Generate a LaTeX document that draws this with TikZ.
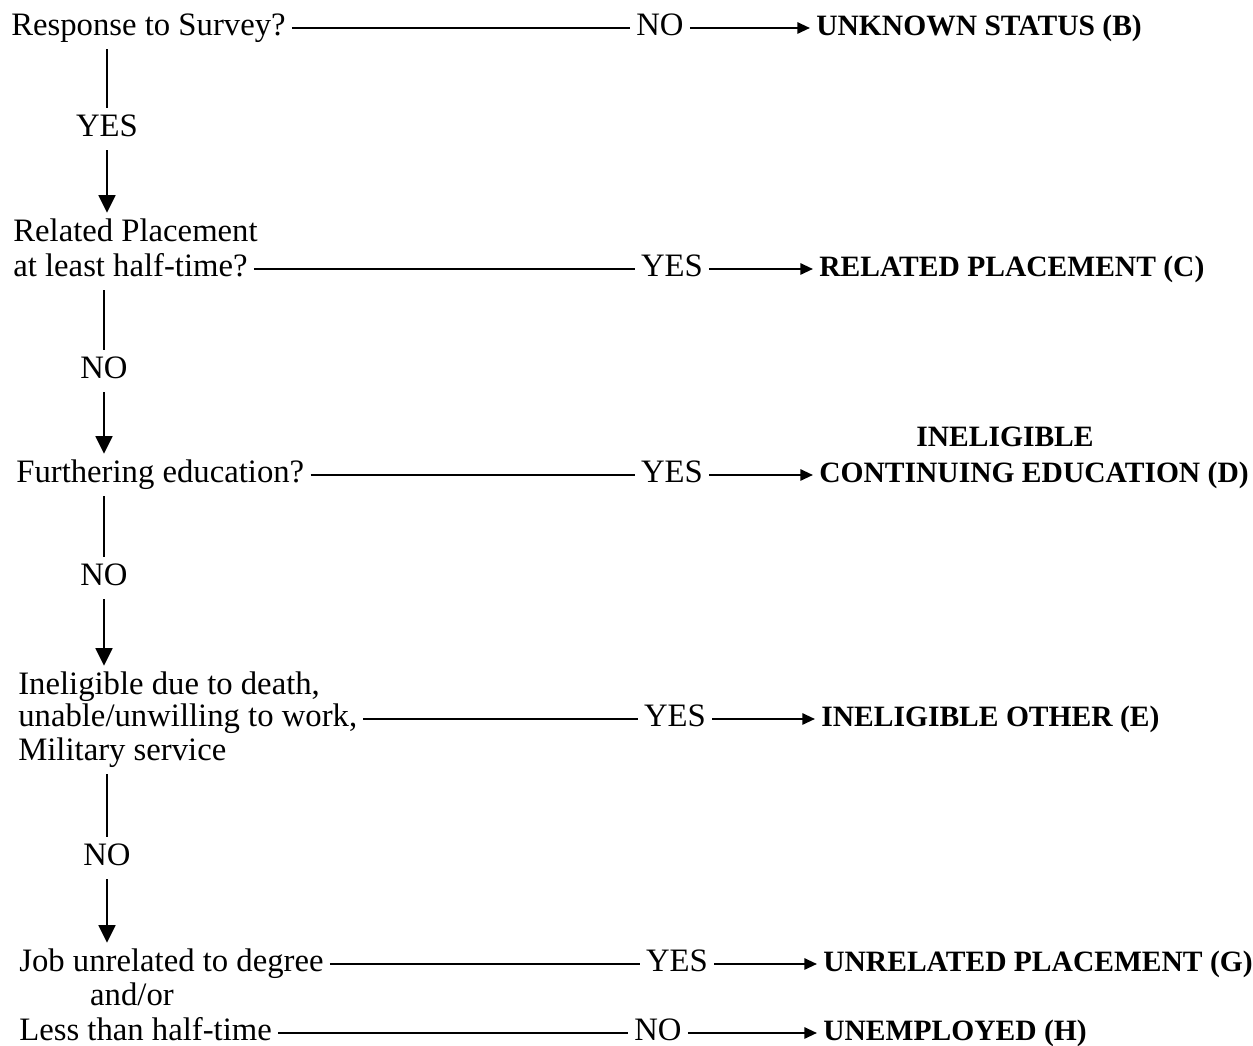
\documentclass[tikz,border=0pt]{standalone}
\usepackage{fontspec}
\setmainfont{Liberation Serif}
\usetikzlibrary{arrows.meta}
\begin{document}
\begin{tikzpicture}[x=0.01cm,y=-0.01cm,line width=0.6pt,
	every node/.style={inner xsep=1.5pt,inner ysep=1pt,text height=0.7em,text depth=0.25em,font=\fontsize{9.3}{11}\selectfont},
	ask/.style={anchor=west},
	outcome/.style={anchor=west,font=\fontsize{8.4}{10}\selectfont\bfseries},
	down/.style={-{Triangle[width=4.8pt,length=5pt]}},
	toward/.style={-{Triangle[width=3.2pt,length=3.6pt]}}]
			\useasboundingbox (0,0) rectangle (1253,1046);
			% questions
			\node[ask] (resp) at (5,28) {Response to Survey?};
			\node[ask] (rel1) at (7,234) {Related Placement};
			\node[ask] (rel) at (7,269) {at least half-time?};
			\node[ask] (furth) at (10,475) {Furthering education?};
			\node[ask] (inel1) at (12,687) {Ineligible due to death,};
			\node[ask] (inel) at (12,719) {unable/unwilling to work,};
			\node[ask] (inel3) at (12,753) {Military service};
			\node[ask] (job) at (13,964) {Job unrelated to degree};
			\node (andor) at (132,998) {and/or};
			\node[ask] (less) at (13,1033) {Less than half-time};
			% answers on the verticals
			\node (yes0) at (107,129) {YES};
			\node (no2) at (104,371) {NO};
			\node (no3) at (104,578) {NO};
			\node (no4) at (107,858) {NO};
			% answers on the horizontals
			\node (no1) at (660,28) {NO};
			\node (yes2) at (672,269) {YES};
			\node (yes3) at (672,475) {YES};
			\node (yes4) at (675,719) {YES};
			\node (yes5) at (677,964) {YES};
			\node (no5) at (658,1033) {NO};
			% outcomes
			\node[outcome] (unk) at (810,28) {UNKNOWN STATUS (B)};
			\node[outcome] (relp) at (813,269) {RELATED PLACEMENT (C)};
			\node[outcome,anchor=center] (ine) at (1005,439) {INELIGIBLE};
			\node[outcome] (cont) at (813,475) {CONTINUING EDUCATION (D)};
			\node[outcome] (oth) at (815,719) {INELIGIBLE OTHER (E)};
			\node[outcome] (unrel) at (817,964) {UNRELATED PLACEMENT (G)};
			\node[outcome] (unemp) at (817,1033) {UNEMPLOYED (H)};
			% down the left
			\draw (resp.south -| yes0) -- (yes0);
			\draw[down] (yes0) -- (yes0 |- rel1.north);
			\draw (rel.south -| no2) -- (no2);
			\draw[down] (no2) -- (no2 |- furth.north);
			\draw (furth.south -| no3) -- (no3);
			\draw[down] (no3) -- (no3 |- inel1.north);
			\draw (inel3.south -| no4) -- (no4);
			\draw[down] (no4) -- (no4 |- job.north);
			% across
			\draw (resp) -- (no1);
			\draw[toward] (no1) -- (unk);
			\draw (rel) -- (yes2);
			\draw[toward] (yes2) -- (relp);
			\draw (furth) -- (yes3);
			\draw[toward] (yes3) -- (cont);
			\draw (inel) -- (yes4);
			\draw[toward] (yes4) -- (oth);
			\draw (job) -- (yes5);
			\draw[toward] (yes5) -- (unrel);
			\draw (less) -- (no5);
			\draw[toward] (no5) -- (unemp);
		\end{tikzpicture}
\end{document}
